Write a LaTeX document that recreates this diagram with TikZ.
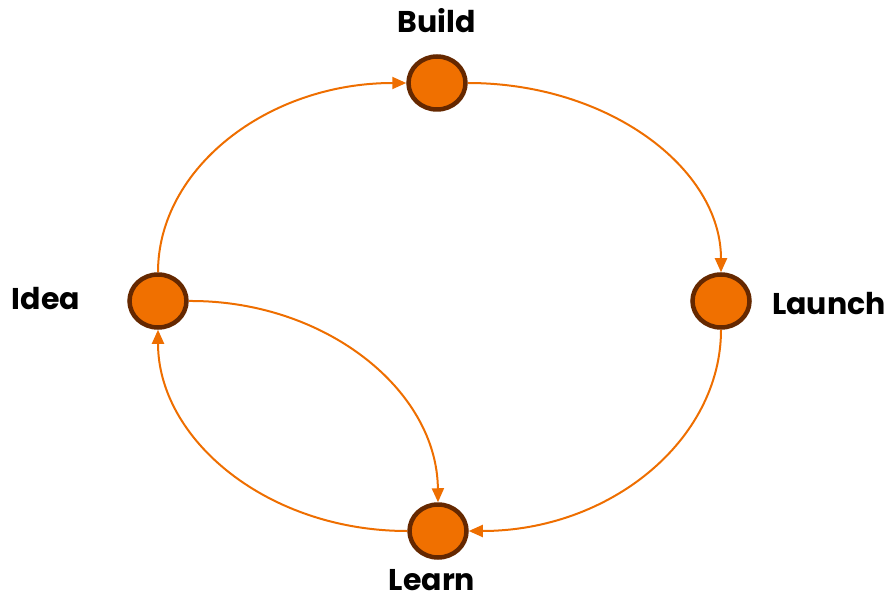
\documentclass[tikz,border=0pt]{standalone}
\usepackage{fontspec}
\setmainfont{Poppins}
\usetikzlibrary{arrows.meta,shapes.geometric}
\definecolor{orfill}{HTML}{F07000}
\definecolor{orline}{HTML}{EE6E00}
\definecolor{brown}{HTML}{652800}
\tikzset{
  stage/.style={ellipse, draw=brown, line width=4.5pt, fill=orfill, minimum width=57pt, minimum height=53pt, inner sep=0pt},
  lbl/.style={font=\bfseries\fontsize{30}{34}\selectfont, text=black, inner sep=0pt, text depth=0pt},
  flow/.style={draw=orline, line width=2pt, -{Triangle[length=14pt,width=12pt]}},
}
\begin{document}
\begin{tikzpicture}[x=1pt,y=-1pt]
\useasboundingbox (0,0) rectangle (890,601);
\node[stage] (build) at (437,83) {};
\node[stage] (launch) at (721,301) {};
\node[stage] (learn) at (438,531) {};
\node[stage] (idea) at (158,301) {};
\node[lbl] (tbuild) at (437,20) {Build};
\node[lbl] (tlaunch) at (829,303) {Launch};
\node[lbl, anchor=base] (tlearn) at (432,590) {Learn};
\node[lbl] (tidea) at (46,298) {Idea};
\draw[flow] (idea.north) .. controls (158,168) and (268,83) .. (build.west);
\draw[flow] (build.east) .. controls (608,83) and (721,168) .. (launch.north);
\draw[flow] (launch.south) .. controls (721,440) and (610,531) .. (learn.east);
\draw[flow] (learn.west) .. controls (268,531) and (158,440) .. (idea.south);
\draw[flow] (idea.east) .. controls (325,300) and (437,390) .. (learn.north);
\end{tikzpicture}
\end{document}
